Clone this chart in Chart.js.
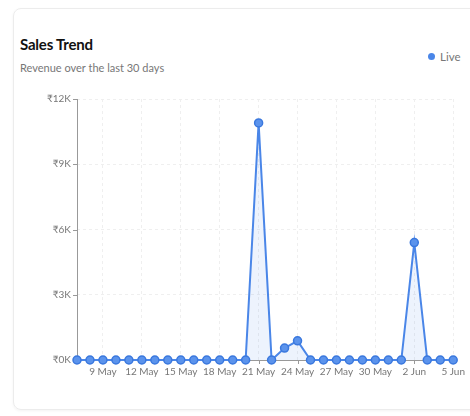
<!DOCTYPE html>
<html><head><meta charset="utf-8">
<script src="https://cdn.jsdelivr.net/npm/chart.js@4.4.1/dist/chart.umd.min.js"></script>
<style>
html,body{margin:0;padding:0;background:#fff;width:470px;height:416px;overflow:hidden;font-family:Lato,"Open Sans",sans-serif;}
.card{position:absolute;left:13px;top:8px;width:470px;height:400px;border:1px solid #ececec;border-radius:8px;box-shadow:0 1px 3px rgba(0,0,0,0.05);}
.title{position:absolute;left:20px;top:35px;font-size:15px;font-weight:700;color:#111;letter-spacing:-0.2px;}
.sub{position:absolute;left:20px;top:61px;font-size:11px;color:#777;}
.legend{position:absolute;left:428px;top:50px;font-size:11.5px;color:#777;}
.legend span{display:inline-block;width:7px;height:7px;border-radius:50%;background:#4a86e8;margin-right:5px;vertical-align:1px;}
#wrap{position:absolute;left:20px;top:90px;width:447px;height:296px;}
</style></head>
<body>
<div class="card"></div>
<div class="title">Sales Trend</div>
<div class="sub">Revenue over the last 30 days</div>
<div class="legend"><span></span>Live</div>
<div id="wrap"><canvas id="c"></canvas></div>
<script>
const dates = ["7 May","8 May","9 May","10 May","11 May","12 May","13 May","14 May","15 May","16 May","17 May","18 May","19 May","20 May","21 May","22 May","23 May","24 May","25 May","26 May","27 May","28 May","29 May","30 May","31 May","1 Jun","2 Jun","3 Jun","4 Jun","5 Jun"];
const revenue = [0,0,0,0,0,0,0,0,0,0,0,0,0,0,10900,0,550,880,0,0,0,0,0,0,0,0,5400,0,0,0];
const yTicks = [0,3000,6000,9000,12000];

const solidAxes = {
  id: 'solidAxes',
  beforeDatasetsDraw(chart) {
    const { ctx, chartArea: a, scales } = chart;
    ctx.save();
    ctx.strokeStyle = '#999'; ctx.lineWidth = 1; ctx.setLineDash([]);
    ctx.beginPath();
    ctx.moveTo(a.left + 0.5, a.top); ctx.lineTo(a.left + 0.5, a.bottom);
    ctx.moveTo(a.left, a.bottom + 0.5); ctx.lineTo(a.right, a.bottom + 0.5);
    // tick marks
    scales.y.ticks.forEach(t => { const y = Math.round(scales.y.getPixelForValue(t.value)) + 0.5; ctx.moveTo(a.left - 4, y); ctx.lineTo(a.left, y); });
    scales.x.ticks.forEach((t, i) => { if (t.label) { const x = Math.round(scales.x.getPixelForTick(i)) + 0.5; ctx.moveTo(x, a.bottom); ctx.lineTo(x, a.bottom + 4); } });
    ctx.stroke();
    ctx.restore();
  }
};

new Chart(document.getElementById('c'), {
  type: 'line',
  data: { labels: dates, datasets: [{
    label: 'Live', data: revenue,
    borderColor: '#4a86e8', borderWidth: 2,
    backgroundColor: 'rgba(74,134,232,0.1)', fill: 'origin',
    tension: 0,
    pointRadius: 4, pointBackgroundColor: '#5b93ec', pointBorderColor: '#3a78de', pointBorderWidth: 1.5,
    clip: false
  }]},
  plugins: [solidAxes],
  options: {
    responsive: true, maintainAspectRatio: false, animation: false,
    layout: { padding: { top: 9, right: 12, left: 0, bottom: 0 } },
    plugins: { legend: { display: false }, tooltip: { enabled: false } },
    scales: {
      x: {
        offset: false,
        grid: { color: '#efefef', tickColor: 'rgba(0,0,0,0)', tickLength: 4, drawOnChartArea: true },
        border: { display: false, dash: [3,3] },
        ticks: { autoSkip: false, maxRotation: 0, color: '#777', font: { family: 'Lato', size: 10 }, padding: 2,
          callback: function(v, i){ return (i % 3 === 2) ? dates[i] : null; } },
        afterFit: function(s){ s.height = 26; }
      },
      y: {
        min: 0, max: 12000,
        afterBuildTicks: function(s){ s.ticks = yTicks.map(v => ({value: v})); },
        grid: { color: '#efefef', tickColor: 'rgba(0,0,0,0)', tickLength: 4 },
        border: { display: false, dash: [3,3] },
        ticks: { color: '#777', font: { family: 'Lato', size: 10 }, padding: 2,
          callback: function(v){ return '₹' + (v/1000) + 'K'; } },
        afterFit: function(s){ s.width = 57; }
      }
    }
  }
});
</script>
</body></html>
